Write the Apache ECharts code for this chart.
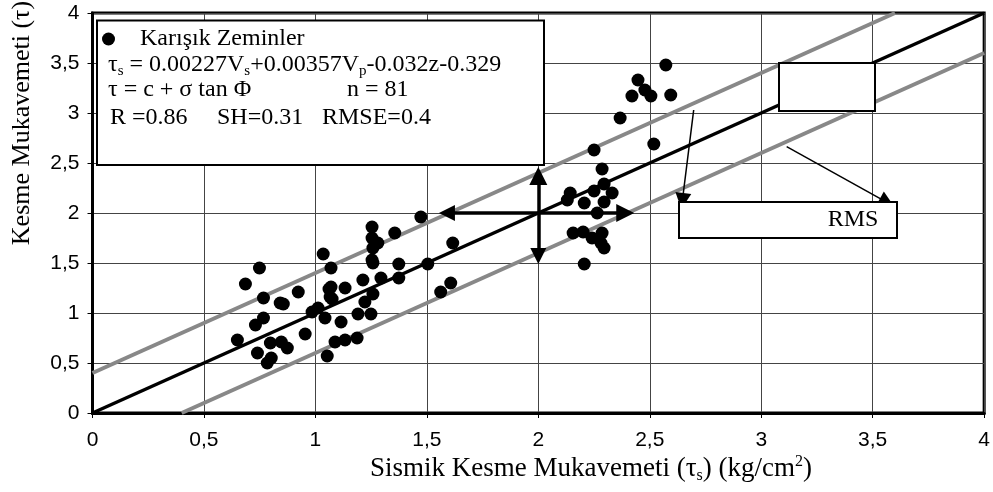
<!DOCTYPE html>
<html>
<head>
<meta charset="utf-8">
<script src="https://cdn.jsdelivr.net/npm/echarts@6/dist/echarts.min.js"></script>
<style>
  html, body { margin: 0; padding: 0; background: #fff; }
  #chart { width: 993px; height: 492px; }
</style>
</head>
<body>
<div id="chart"></div>
<script>
const seriesName = 'Karışık Zeminler'
const tauS = [
  0.65, 0.686, 0.749, 0.767, 0.731, 0.767, 0.74, 0.798, 0.784, 0.802,
  0.842, 0.856, 0.847, 0.874, 0.923, 0.954, 0.985, 1.012, 1.035, 1.043,
  1.07, 1.053, 1.061, 1.066, 1.07, 1.075, 1.115, 1.133, 1.088, 1.133,
  1.187, 1.191, 1.213, 1.222, 1.249, 1.258, 1.254, 1.254, 1.28, 1.258,
  1.254, 1.258, 1.356, 1.294, 1.374, 1.374, 1.473, 1.616, 1.504, 1.562,
  1.607,
  2.572, 2.447, 2.478, 2.505, 2.42, 2.367, 2.518, 2.25, 2.286, 2.594,
  2.295, 2.143, 2.13, 2.25, 2.331, 2.295, 2.206, 2.264, 2.156, 2.201,
  2.241, 2.286, 2.295, 2.281, 2.206,
]
const tau = [
  0.73, 1.29, 1.45, 1.15, 0.88, 0.95, 0.6, 0.7, 0.5, 0.55,
  1.1, 1.09, 0.71, 0.65, 1.21, 0.79, 1.01, 1.05, 1.59, 0.95,
  1.45, 0.57, 1.24, 1.16, 1.26, 1.14, 0.91, 1.25, 0.71, 0.73,
  0.75, 0.99, 1.33, 1.11, 0.99, 1.19, 1.86, 1.75, 1.7, 1.65,
  1.53, 1.5, 1.8, 1.35, 1.49, 1.35, 1.96, 1.7, 1.49, 1.21,
  1.3,
  3.48, 3.33, 3.23, 3.17, 3.17, 2.95, 2.69, 2.63, 2.44, 3.18,
  2.29, 2.2, 2.13, 2.22, 2.2, 2.11, 2.1, 2.0, 1.8, 1.81,
  1.75, 1.8, 1.65, 1.7, 1.49,
]

// 1:1 line and the +/- RMSE band
const fitLine = [[0, 0], [4, 4]]
const upperBand = [[0, 0.4], [3.6, 4]]
const lowerBand = [[0.4, 0], [4, 3.6]]

// double arrows showing +/- RMSE around (2, 2)
const rmseArrowH = [[1.59, 2], [2.39, 2]]
const rmseArrowV = [[2, 1.57], [2, 2.37]]
// pointer arrows to the label boxes
const pointerA = [[2.697, 3.03], [2.646, 2.12]]
const pointerB = [[3.114, 2.663], [3.564, 2.107]]

const points = tauS.map((x, i) => [x, tau[i]])

const serif = '"Liberation Serif", "Times New Roman", serif'
const sans = '"Liberation Sans", Arial, sans-serif'
const boxText = { fontFamily: serif, fontSize: 24, fill: '#000' }
const subRich = {
  n: { fontFamily: serif, fontSize: 24, lineHeight: 28 },
  s: { fontFamily: serif, fontSize: 15, lineHeight: 28, verticalAlign: 'bottom', padding: [10, 0, 0, 0] },
}

const chart = echarts.init(document.getElementById('chart'))

const fmt = (v) => String(v).replace('.', ',')

const axisCommon = {
  type: 'value',
  min: 0,
  max: 4,
  interval: 0.5,
  axisLine: { show: true, onZero: false, lineStyle: { color: '#000', width: 3 } },
  axisTick: { show: true, inside: false, length: 5, lineStyle: { color: '#000', width: 1 } },
  splitLine: { show: true, lineStyle: { color: '#444', width: 1 } },
  axisLabel: {
    color: '#000',
    fontFamily: sans,
    fontSize: 21,
    formatter: fmt,
  },
}

chart.setOption({
  backgroundColor: '#fff',
  animation: false,
  grid: {
    left: 92.5,
    right: 5,
    top: 13,
    bottom: 79,
    show: true,
    borderColor: '#000',
    borderWidth: 3,
    backgroundColor: '#fff',
  },
  legend: {
    data: [seriesName],
    left: 97,
    top: 22,
    icon: 'circle',
    itemWidth: 13,
    itemHeight: 13,
    z: 20,
    textStyle: { fontFamily: serif, fontSize: 24, color: '#000', padding: [0, 0, 0, 20] },
  },
  xAxis: {
    ...axisCommon,
    axisLabel: { ...axisCommon.axisLabel, margin: 17 },
  },
  yAxis: {
    ...axisCommon,
    axisLabel: { ...axisCommon.axisLabel, margin: 13 },
  },
  series: [
    {
      type: 'line',
      data: upperBand,
      symbol: 'none',
      lineStyle: { color: '#888', width: 4 },
      z: 3,
    },
    {
      type: 'line',
      data: lowerBand,
      symbol: 'none',
      lineStyle: { color: '#888', width: 4 },
      z: 3,
    },
    {
      type: 'line',
      data: fitLine,
      symbol: 'none',
      lineStyle: { color: '#000', width: 3.5 },
      z: 4,
    },
    {
      name: seriesName,
      type: 'scatter',
      data: points,
      symbolSize: 13,
      itemStyle: { color: '#000', opacity: 1 },
      z: 5,
    },
    {
      type: 'lines',
      coordinateSystem: 'cartesian2d',
      symbol: ['triangle', 'triangle'],
      symbolSize: [16, 18],
      lineStyle: { color: '#000', width: 3.5, opacity: 1 },
      data: [{ coords: rmseArrowH }, { coords: rmseArrowV }],
      z: 6,
    },
    {
      type: 'lines',
      coordinateSystem: 'cartesian2d',
      symbol: ['none', 'triangle'],
      symbolSize: [13, 16],
      lineStyle: { color: '#000', width: 1.5, opacity: 1 },
      data: [{ coords: pointerA }, { coords: pointerB }],
      z: 6,
    },
  ],
  graphic: [
    // info box
    {
      type: 'rect',
      shape: { x: 97, y: 20.5, width: 447, height: 144.5 },
      style: { fill: '#fff', stroke: '#000', lineWidth: 2 },
      z: 10,
    },
    {
      type: 'text', x: 108, y: 51, z: 11,
      style: {
        text: '{n|τ}{s|s}{n| = 0.00227V}{s|s}{n|+0.00357V}{s|p}{n|-0.032z-0.329}',
        rich: subRich, verticalAlign: 'top',
      },
    },
    { type: 'text', x: 108, y: 78, z: 11, style: { ...boxText, text: 'τ = c + σ tan Φ' } },
    { type: 'text', x: 347, y: 78, z: 11, style: { ...boxText, text: 'n = 81' } },
    { type: 'text', x: 110, y: 106, z: 11, style: { ...boxText, text: 'R =0.86' } },
    { type: 'text', x: 217, y: 106, z: 11, style: { ...boxText, text: 'SH=0.31' } },
    { type: 'text', x: 322, y: 106, z: 11, style: { ...boxText, text: 'RMSE=0.4' } },
    // empty label box
    {
      type: 'rect',
      shape: { x: 779, y: 63, width: 96, height: 48 },
      style: { fill: '#fff', stroke: '#000', lineWidth: 2 },
      z: 10,
    },
    // RMS box
    {
      type: 'rect',
      shape: { x: 679, y: 202, width: 218, height: 36 },
      style: { fill: '#fff', stroke: '#000', lineWidth: 2 },
      z: 10,
    },
    {
      type: 'text', x: 853, y: 220, z: 11,
      style: { fontFamily: serif, fontSize: 24, fill: '#000', text: 'RMS', align: 'center', verticalAlign: 'middle' },
    },
    // axis titles
    {
      type: 'text', x: 591, y: 469, z: 11,
      style: {
        text: '{n|Sismik Kesme Mukavemeti (τ}{s|s}{n|) (kg/cm}{p|2}{n|)}',
        align: 'center', verticalAlign: 'middle',
        rich: {
          n: { fontFamily: serif, fontSize: 27, lineHeight: 30 },
          s: { fontFamily: serif, fontSize: 16, lineHeight: 30, verticalAlign: 'bottom', padding: [10, 0, 0, 0] },
          p: { fontFamily: serif, fontSize: 16, lineHeight: 30, verticalAlign: 'top', padding: [0, 0, 10, 0] },
        },
      },
    },
    {
      type: 'text', x: 22, y: 123, rotation: Math.PI / 2, z: 11,
      style: {
        fontFamily: serif, fontSize: 26, fill: '#000', text: 'Kesme Mukavemeti (τ)',
        align: 'center', verticalAlign: 'middle',
      },
    },
  ],
})
</script>
</body>
</html>
